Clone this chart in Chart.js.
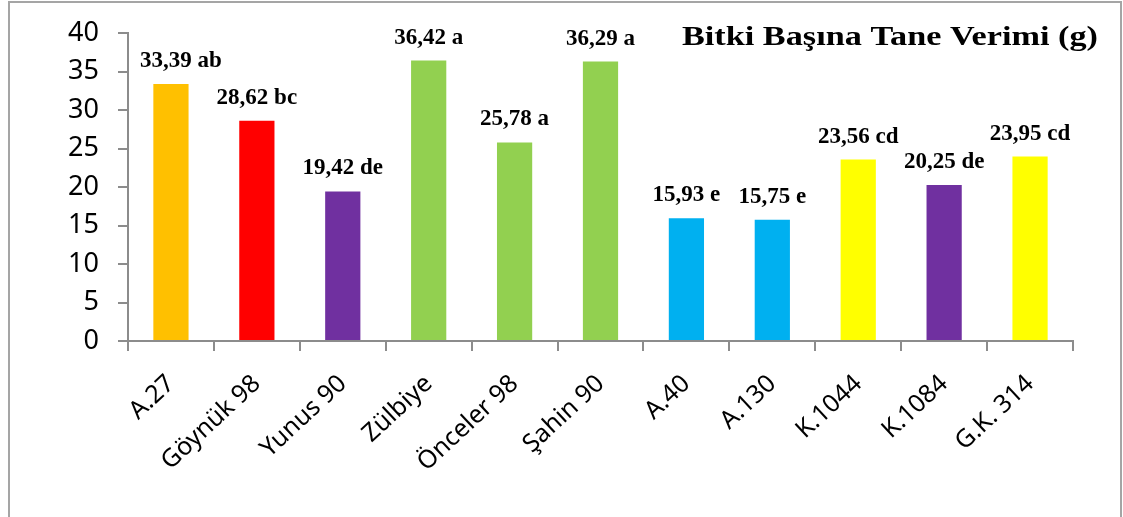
<!DOCTYPE html>
<html>
<head>
<meta charset="utf-8">
<script src="https://cdn.jsdelivr.net/npm/chart.js@4.4.1/dist/chart.umd.min.js"></script>
<style>
    html, body { margin: 0; padding: 0; background: #fff; overflow: hidden; }
    #frame { position: absolute; left: 8px; top: 1px; width: 1114px; height: 540px; border: 2px solid #a5a5a5; box-sizing: border-box; }
    #wrap { position: absolute; left: 0; top: 0; width: 1123px; height: 517px; }
</style>
</head>
<body>
<div id="frame"></div>
<div id="wrap"><canvas id="YieldChart"></canvas></div>
<script>
const varieties = ['A.27', 'Göynük 98', 'Yunus 90', 'Zülbiye', 'Önceler 98', 'Şahin 90', 'A.40', 'A.130', 'K.1044', 'K.1084', 'G.K. 314'];
const yieldValues = [33.39, 28.62, 19.42, 36.42, 25.78, 36.29, 15.93, 15.75, 23.56, 20.25, 23.95];
const groupLetters = ['ab', 'bc', 'de', 'a', 'a', 'a', 'e', 'e', 'cd', 'de', 'cd'];
const barColors = ['#FFC000', '#FF0000', '#7030A0', '#92D050', '#92D050', '#92D050', '#00B0F0', '#00B0F0', '#FFFF00', '#7030A0', '#FFFF00'];
const yMin = 0;
const yMax = 40;
const yStep = 5;
const chartTitle = 'Bitki Başına Tane Verimi (g)';

const axisGray = '#8c8c8c';
const tickFont = '"Noto Sans", "DejaVu Sans", sans-serif';

// value labels over the bars + the title box
const barLabels = {
    id: 'barLabels',
    afterDatasetsDraw(chart) {
        const ctx = chart.ctx;
        const meta = chart.getDatasetMeta(0);
        ctx.save();
        ctx.fillStyle = '#000';
        ctx.font = 'bold 23px "Liberation Serif", "Times New Roman", serif';
        ctx.textAlign = 'center';
        ctx.textBaseline = 'alphabetic';
        meta.data.forEach(function (bar, i) {
            let text = yieldValues[i].toFixed(2).replace('.', ',') + ' ' + groupLetters[i];
            let nudge = i === 0 ? 10 : 0;
            ctx.fillText(text, bar.x + nudge, bar.y - 17);
        });

        ctx.font = 'bold 28px "Liberation Serif", "Times New Roman", serif';
        ctx.textAlign = 'left';
        let w = ctx.measureText(chartTitle).width;
        ctx.translate(682, 45);
        ctx.scale(416 / w, 1);
        ctx.fillText(chartTitle, 0, 0);
        ctx.restore();
    }
};

const yield_chart = new Chart(
    document.getElementById('YieldChart'),
    {
        type: 'bar',
        data: {
            labels: varieties,
            datasets: [
                {
                    data: yieldValues,
                    backgroundColor: barColors,
                    borderWidth: 0,
                    categoryPercentage: 1,
                    barPercentage: 0.41
                }
            ]
        },
        options: {
            responsive: true,
            maintainAspectRatio: false,
            animation: false,
            layout: {
                padding: { left: 0, top: 33, right: 50, bottom: 0 }
            },
            plugins: {
                legend: { display: false },
                tooltip: { enabled: false }
            },
            scales: {
                x: {
                    offset: true,
                    grid: {
                        offset: true,
                        drawOnChartArea: false,
                        drawTicks: true,
                        tickLength: 10,
                        color: axisGray,
                        lineWidth: 2
                    },
                    border: { color: axisGray, width: 2 },
                    ticks: {
                        color: '#000',
                        font: { family: tickFont, size: 25 },
                        minRotation: 43,
                        maxRotation: 43,
                        autoSkip: false,
                        padding: 18
                    },
                    afterFit: function (scale) {
                        scale.height = 176;
                    }
                },
                y: {
                    min: yMin,
                    max: yMax,
                    grid: {
                        drawOnChartArea: false,
                        drawTicks: true,
                        tickLength: 10,
                        color: axisGray,
                        lineWidth: 2
                    },
                    border: { color: axisGray, width: 2 },
                    ticks: {
                        stepSize: yStep,
                        color: '#000',
                        font: { family: tickFont, size: 27 },
                        padding: 19
                    },
                    afterFit: function (scale) {
                        scale.width = 128;
                        scale.paddingTop = 0;
                        scale.paddingBottom = 0;
                    }
                }
            }
        },
        plugins: [barLabels]
    }
);
</script>
</body>
</html>
